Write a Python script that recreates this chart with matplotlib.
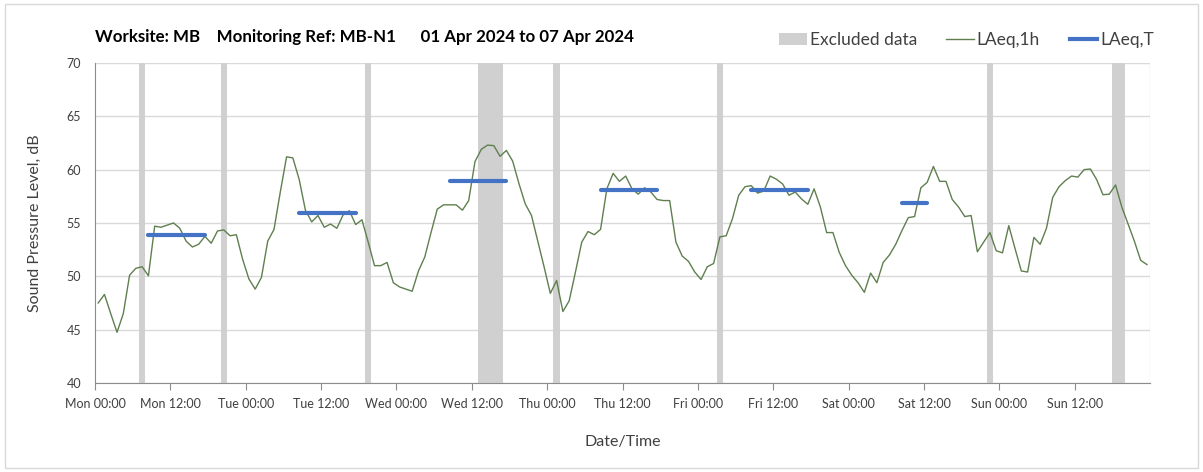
import matplotlib.pyplot as plt
from matplotlib.patches import Patch, Rectangle
from matplotlib.lines import Line2D

plt.rcParams['font.family'] = ['Lato', 'DejaVu Sans']

# hourly LAeq,1h values, Mon 00:00 .. Sun 23:00
laeq_1h = [
    47.5, 48.3, 46.5, 44.75, 46.5, 50.1, 50.75, 50.9, 50.05, 54.7, 54.6, 54.8,
    55.0, 54.5, 53.3, 52.75, 53.0, 53.75, 53.1, 54.25, 54.35, 53.8, 53.9, 51.6,
    49.75, 48.8, 49.9, 53.3, 54.4, 57.9, 61.2, 61.1, 59.1, 56.2, 55.1, 55.7,
    54.6, 54.9, 54.5, 55.75, 56.15, 54.85, 55.3, 53.2, 51.0, 51.0, 51.3, 49.4,
    49.0, 48.8, 48.6, 50.5, 51.8, 54.1, 56.3, 56.7, 56.7, 56.7, 56.2, 57.1,
    60.75, 61.9, 62.3, 62.25, 61.25, 61.8, 60.8, 58.7, 56.8, 55.7, 53.3, 50.9,
    48.4, 49.6, 46.7, 47.7, 50.4, 53.2, 54.2, 53.9, 54.4, 58.2, 59.65, 58.9,
    59.4, 58.2, 57.7, 58.3, 57.9, 57.2, 57.1, 57.1, 53.2, 51.9, 51.4, 50.4,
    49.7, 50.9, 51.2, 53.7, 53.8, 55.4, 57.6, 58.4, 58.5, 57.8, 58.0, 59.4,
    59.1, 58.65, 57.6, 57.9, 57.25, 56.75, 58.2, 56.5, 54.1, 54.1, 52.25, 51.0,
    50.1, 49.4, 48.5, 50.3, 49.4, 51.3, 52.0, 53.0, 54.3, 55.5, 55.6, 58.3,
    58.8, 60.3, 58.9, 58.9, 57.2, 56.5, 55.6, 55.7, 52.3, 53.2, 54.1, 52.4,
    52.2, 54.75, 52.6, 50.5, 50.4, 53.65, 53.0, 54.5, 57.4, 58.4, 58.97, 59.4,
    59.3, 60.0, 60.06, 59.06, 57.65, 57.7, 58.56, 56.5, 54.9, 53.3, 51.5, 51.1,
]

# excluded periods (hours from Mon 00:00)
excl_start = [7, 20, 43, 61, 73, 99, 142, 162]
excl_end = [8, 21, 44, 65, 74, 100, 143, 164]

# LAeq,T assessment periods (hours from Mon 00:00)
t_start = [8, 32, 56, 80, 104, 128]
t_end = [18, 42, 66, 90, 114, 133]
t_value = [53.9, 55.9, 58.9, 58.1, 58.1, 56.9]

days = ['Mon', 'Tue', 'Wed', 'Thu', 'Fri', 'Sat', 'Sun']
tick_labels = [f'{d} {t}' for d in days for t in ['00:00', '12:00']]

green = '#5f7f4f'
blue = '#4472C4'
grey = '#d0d0d0'

fig = plt.figure(figsize=(12.03, 4.72), dpi=100)
ax = fig.add_axes([0.079, 0.1886, 0.877, 0.678])

for s, e in zip(excl_start, excl_end):
    ax.axvspan(s, e, color=grey, lw=0, zorder=1)

hours = [h + 0.5 for h in range(len(laeq_1h))]
ax.plot(hours, laeq_1h, color=green, lw=1, zorder=3)

for s, e, v in zip(t_start, t_end, t_value):
    ax.plot([s + 0.5, e - 0.5], [v, v], color=blue, lw=3,
            solid_capstyle='round', zorder=4)

ax.set_xlim(0, 168)
ax.set_ylim(40, 70)
ax.set_yticks(range(40, 71, 5))
ax.set_xticks(range(0, 168, 12))
ax.set_xticklabels(tick_labels)
ax.set_xticks(range(0, 169, 24), minor=True)

ax.grid(axis='y', color='#d9d9d9', lw=1, zorder=0)
ax.grid(axis='x', which='minor', color='#e2e2e2', lw=1, zorder=0)
ax.set_axisbelow(True)
for side in ['top', 'right']:
    ax.spines[side].set_visible(False)
for side in ['left', 'bottom']:
    ax.spines[side].set_color('#8c8c8c')
ax.tick_params(axis='x', which='major', length=5, color='#8c8c8c',
               labelsize=9, labelcolor='#404040', pad=6)
ax.tick_params(axis='x', which='minor', length=0)
ax.tick_params(axis='y', length=0, labelsize=9, labelcolor='#404040', pad=10)

ax.set_xlabel('Date/Time', fontsize=11.5, color='#404040', labelpad=18)
ax.set_ylabel('Sound Pressure Level, dB', fontsize=11.5, color='#404040', labelpad=18)

fig.text(0.079, 0.922, 'Worksite: MB    Monitoring Ref: MB-N1      01 Apr 2024 to 07 Apr 2024',
         fontsize=12.2, fontweight='bold', va='center', ha='left')

handles = [Patch(facecolor=grey, edgecolor='none'),
           Line2D([], [], color=green, lw=1),
           Line2D([], [], color=blue, lw=3)]
fig.legend(handles, ['Excluded data', 'LAeq,1h', 'LAeq,T'], ncol=3,
           loc='center right', bbox_to_anchor=(0.972, 0.915), frameon=False,
           fontsize=12.5, handlelength=1.6, handletextpad=0.15, columnspacing=1.7,
           labelcolor='#404040')

fig.patches.append(Rectangle((0.004, 0.008), 0.992, 0.984, transform=fig.transFigure,
                             fill=False, edgecolor='#d9d9d9', lw=1))

fig.savefig('out.png', dpi=100)
